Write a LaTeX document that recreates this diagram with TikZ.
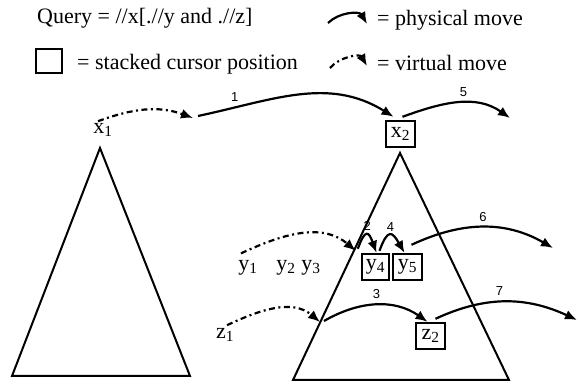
\documentclass[tikz,border=0pt]{standalone}
\usepackage{fontspec}
\setmainfont{Liberation Serif}
\setsansfont{Liberation Sans}
\usetikzlibrary{arrows.meta,positioning}

\begin{document}
\begin{tikzpicture}[x=1pt,y=1pt,
  cur/.style={draw,line width=2.4pt,minimum width=29pt,minimum height=26pt,
              inner sep=0pt,font=\fontsize{22}{22}\selectfont},
  lbl/.style={font=\fontsize{22}{24}\selectfont,inner sep=0pt},
  num/.style={font=\sffamily\fontsize{13}{13}\selectfont,inner sep=0pt},
  phys/.style={line width=2.2pt,-{Latex[length=12pt,width=10pt]}},
  virt/.style={phys,dash pattern=on 6pt off 3.5pt on 2pt off 3.5pt},
  tri/.style={line width=2pt,line join=miter}
]
\useasboundingbox (0,0) rectangle (578,388);

% ---- Legend -------------------------------------------------
\node[lbl,anchor=west] (query) at (37,370) {Query = //x[.//y and .//z]};
\node[cur,minimum width=26pt,minimum height=24pt] (key) at (49,327) {};
\node[lbl,anchor=west] (keytxt) at (77,324) {= stacked cursor position};

\coordinate (ps) at (328,365);
\coordinate (pe) at (367,364);
\draw[phys] (ps) to[out=45,in=120] (pe);
\node[lbl,anchor=west] (phystxt) at (377,368) {= physical move};

\coordinate (vs) at (330,320);
\coordinate (ve) at (367,322);
\draw[virt] (vs) to[out=50,in=120] (ve);
\node[lbl,anchor=west] (virttxt) at (377,325) {= virtual move};

% ---- Left subtree -------------------------------------------
\draw[tri] (100,240) -- (190,12) -- (12,12) -- cycle;
\node[lbl] (x1) at (103,258) {x\textsubscript{1}};

% ---- Right subtree ------------------------------------------
\draw[tri] (400,235) -- (509,8) -- (293,8) -- cycle;
\node[cur] (x2) at (400.5,254) {x\textsubscript{2}};
\node[cur,minimum width=27pt] (y4) at (375.5,121) {y\textsubscript{4}};
\node[cur] (y5) at (407.5,121) {y\textsubscript{5}};
\node[cur] (z2) at (430.5,52) {z\textsubscript{2}};

\node[lbl] (y1) at (248,120) {y\textsubscript{1}};
\node[lbl] (y2) at (286,120) {y\textsubscript{2}};
\node[lbl] (y3) at (311,120) {y\textsubscript{3}};
\node[lbl] (z1) at (225,53) {z\textsubscript{1}};

% ---- Moves on x ---------------------------------------------
\coordinate (xin) at (193,270);
\draw[virt] ([shift={(-5,2)}]x1.north) to[out=20,in=160] (xin);
\draw[phys] ([shift={(5,2)}]xin) to[out=12,in=148]
  node[num,pos=0.17,above=5pt] (n1) {1} ([shift={(-7,3)}]x2.north);
\draw[phys] ([shift={(2,3)}]x2.north) to[out=20,in=145]
  node[num,pos=0.55,above=5pt] (n5) {5} (510,270);

% ---- Moves on y ---------------------------------------------
\coordinate (yin) at ([shift={(-5,2)}]y4.north west);
\draw[virt] ([shift={(-7,7)}]y1.north) to[out=25,in=140] (yin);
\draw[phys] ([shift={(2,2)}]yin) to[out=70,in=110,looseness=3]
  node[num,above=3pt] (n2) {2} ([xshift=1]y4.north);
\draw[phys] ([shift={(4,2)}]y4.north) to[out=70,in=120,looseness=2.5]
  node[num,above=3pt] (n4) {4} ([xshift=-3]y5.north);
\draw[phys] ([shift={(4,8)}]y5.north) to[out=25,in=150]
  node[num,pos=0.5,above=5pt] (n6) {6} (553,140);

% ---- Moves on z ---------------------------------------------
\coordinate (zin) at (320,66);
\draw[virt] ([shift={(2,3)}]z1.north) to[out=25,in=140] (zin);
\draw[phys] ([shift={(4,1)}]zin) to[out=30,in=145]
  node[num,pos=0.5,above=5pt] (n3) {3} ([xshift=-3]z2.north);
\draw[phys] ([shift={(5,3)}]z2.north) to[out=25,in=155]
  node[num,pos=0.45,above=5pt] (n7) {7} (577,68);

\end{tikzpicture}
\end{document}
